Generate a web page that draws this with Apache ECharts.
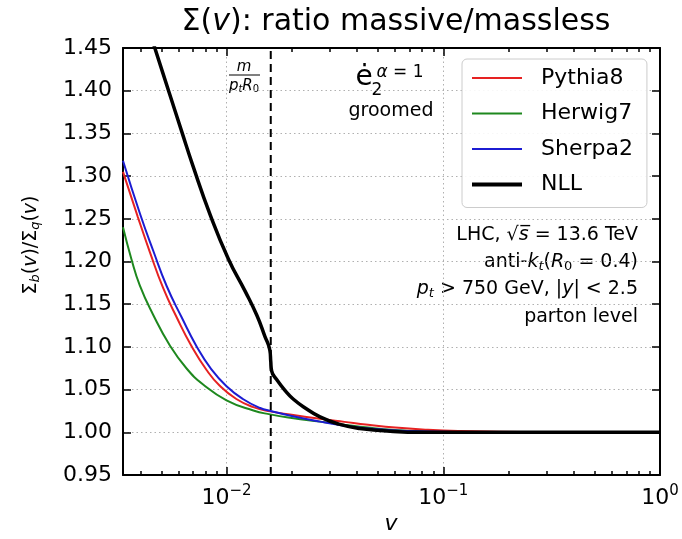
<!DOCTYPE html>
<html>
<head>
<meta charset="utf-8">
<script src="https://cdn.jsdelivr.net/npm/echarts/dist/echarts.min.js"></script>
<style>
  html, body { margin: 0; padding: 0; background: #fff; }
  #chart { width: 682px; height: 539px; }
</style>
</head>
<body>
<div id="chart"></div>
<script>
// ---------- data ----------
const xMin = 0.00333;
const xMax = 1;
const yMin = 0.95;
const yMax = 1.45;
const yStep = 0.05;
const xMajorTicks = [0.01, 0.1, 1];
const xMinorTicks = [0.004, 0.005, 0.006, 0.007, 0.008, 0.009,
                     0.02, 0.03, 0.04, 0.05, 0.06, 0.07, 0.08, 0.09,
                     0.2, 0.3, 0.4, 0.5, 0.6, 0.7, 0.8, 0.9];
const massCutoff = 0.016;   // m/(p_t R_0)

const pythia8 = [
  [0.00333, 1.305], [0.0039, 1.252], [0.00443, 1.211], [0.0051, 1.169],
  [0.00588, 1.135], [0.00689, 1.101], [0.00809, 1.073], [0.00931, 1.0545],
  [0.0111, 1.039], [0.0133, 1.0295], [0.0159, 1.0245], [0.020, 1.0205],
  [0.027, 1.0158], [0.035, 1.0122], [0.045, 1.0088], [0.060, 1.0055],
  [0.085, 1.003], [0.12, 1.0015], [0.18, 1.0007], [0.30, 1.0002],
  [0.50, 1.000], [1.0, 1.000]
];
const herwig7 = [
  [0.00333, 1.240], [0.00364, 1.203], [0.00398, 1.172], [0.00458, 1.138],
  [0.00547, 1.102], [0.00653, 1.075], [0.0078, 1.056], [0.0100, 1.0375],
  [0.0133, 1.0255], [0.0159, 1.021], [0.020, 1.0168], [0.027, 1.0125],
  [0.035, 1.0088], [0.045, 1.0055], [0.060, 1.0028], [0.085, 1.0012],
  [0.12, 1.0004], [0.20, 1.000], [1.0, 1.000]
];
const sherpa2 = [
  [0.00333, 1.318], [0.0040, 1.255], [0.0046, 1.212], [0.0053, 1.171],
  [0.0062, 1.135], [0.0073, 1.100], [0.0085, 1.074], [0.0100, 1.054],
  [0.0119, 1.039], [0.0143, 1.0285], [0.0160, 1.025], [0.020, 1.019],
  [0.027, 1.0125], [0.035, 1.0078], [0.045, 1.0045], [0.060, 1.0022],
  [0.085, 1.001], [0.12, 1.0004], [0.20, 1.000], [1.0, 1.000]
];
const nll = [
  [0.0042, 1.487], [0.00467, 1.450], [0.00545, 1.397], [0.0062, 1.353],
  [0.0070, 1.312], [0.0084, 1.255], [0.0102, 1.203], [0.0122, 1.165],
  [0.0138, 1.137], [0.0150, 1.113], [0.01585, 1.096], [0.0160, 1.083],
  [0.01615, 1.072], [0.0170, 1.062], [0.0189, 1.047], [0.0203, 1.039],
  [0.0226, 1.030], [0.0270, 1.018], [0.0330, 1.0095], [0.0412, 1.0045],
  [0.0587, 1.001], [0.080, 1.000], [1.0, 1.000]
];
const cutoffLine = [[massCutoff, yMin], [massCutoff, yMax]];

// ---------- chart ----------
const FONT = 'DejaVu Sans';
const chart = echarts.init(document.getElementById('chart'), null, { renderer: 'canvas' });

const axisLineStyle = { color: '#000', width: 2 };
const tickStyle = { color: '#000', width: 1.5 };
const gridLineStyle = { type: [1.5, 3], color: '#b0b0b0', width: 1 };

function powLabel(v) {
  const l = Math.log10(v);
  const e = Math.round(l);
  if (Math.abs(l - e) > 1e-6) return '';
  return '{b|10}{s|' + (e < 0 ? '\u2212' + (-e) : String(e)) + '}';
}

const logAxisBase = { type: 'log', logBase: 10, min: xMin, max: xMax, gridIndex: 0 };

const option = {
  animation: false,
  backgroundColor: '#ffffff',
  title: {
    text: '{a|\u03A3(}{b|v}{a|): ratio massive/massless}',
    left: 391, top: 2, textAlign: 'center',
    textStyle: {
      fontWeight: 'normal',
      rich: {
        a: { fontSize: 30, fontFamily: FONT, fontWeight: 'normal', color: '#000' },
        b: { fontSize: 30, fontFamily: FONT, fontWeight: 'normal', fontStyle: 'italic', color: '#000' }
      }
    }
  },
  grid: { left: 123, right: 22, top: 48, bottom: 64, containLabel: false },
  legend: {
    orient: 'vertical', left: 462, top: 59,
    padding: [8, 14, 12, 8],
    itemWidth: 50, itemHeight: 14, itemGap: 13.5,
    backgroundColor: 'rgba(255,255,255,0.9)',
    borderColor: '#cccccc', borderWidth: 1, borderRadius: 5,
    itemStyle: { opacity: 0 },
    textStyle: { fontSize: 22, fontFamily: FONT, color: '#000', padding: [0, 0, 0, 14], lineHeight: 22 },
    data: [
      { name: 'Pythia8' },
      { name: 'Herwig7' },
      { name: 'Sherpa2' },
      { name: 'NLL', lineStyle: { width: 4 } }
    ]
  },
  xAxis: [
    Object.assign({}, logAxisBase, {
      position: 'bottom',
      axisLine: { show: true, onZero: false, lineStyle: axisLineStyle },
      axisTick: { show: true, inside: true, length: 8, lineStyle: tickStyle, customValues: xMajorTicks },
      minorTick: { show: false },
      axisLabel: {
        customValues: xMajorTicks, margin: 9, formatter: powLabel,
        rich: {
          b: { fontSize: 22, fontFamily: FONT, color: '#000' },
          s: { fontSize: 15, fontFamily: FONT, color: '#000', padding: [0, 0, 14, 0] }
        }
      },
      splitLine: { show: true, lineStyle: gridLineStyle }
    }),
    Object.assign({}, logAxisBase, {
      position: 'bottom',
      axisLine: { show: false, onZero: false },
      axisTick: { show: true, inside: true, length: 4, lineStyle: tickStyle, customValues: xMinorTicks },
      axisLabel: { show: false },
      splitLine: { show: false }
    }),
    Object.assign({}, logAxisBase, {
      position: 'top',
      axisLine: { show: true, onZero: false, lineStyle: axisLineStyle },
      axisTick: { show: true, inside: true, length: 8, lineStyle: tickStyle, customValues: xMajorTicks },
      axisLabel: { show: false },
      splitLine: { show: false }
    }),
    Object.assign({}, logAxisBase, {
      position: 'top',
      axisLine: { show: false, onZero: false },
      axisTick: { show: true, inside: true, length: 4, lineStyle: tickStyle, customValues: xMinorTicks },
      axisLabel: { show: false },
      splitLine: { show: false }
    })
  ],
  yAxis: [
    {
      type: 'value', min: yMin, max: yMax, interval: yStep, position: 'left',
      axisLine: { show: true, onZero: false, lineStyle: axisLineStyle },
      axisTick: { show: true, inside: true, length: 8, lineStyle: tickStyle },
      axisLabel: { fontSize: 22, fontFamily: FONT, color: '#000', margin: 11,
                   formatter: v => v.toFixed(2) },
      splitLine: { show: true, lineStyle: gridLineStyle }
    },
    {
      type: 'value', min: yMin, max: yMax, interval: yStep, position: 'right',
      axisLine: { show: true, onZero: false, lineStyle: axisLineStyle },
      axisTick: { show: true, inside: true, length: 8, lineStyle: tickStyle },
      axisLabel: { show: false },
      splitLine: { show: false }
    }
  ],
  series: [
    { name: 'cutoff', type: 'line', data: cutoffLine, symbol: 'none', silent: true,
      lineStyle: { color: '#000', type: [8, 5], width: 2 }, z: 6 },
    { name: 'Pythia8', type: 'line', data: pythia8, symbol: 'none', smooth: 0.5,
      lineStyle: { color: '#e62222', width: 2 }, itemStyle: { color: '#e62222' }, z: 3 },
    { name: 'Herwig7', type: 'line', data: herwig7, symbol: 'none', smooth: 0.5,
      lineStyle: { color: '#1e881e', width: 2 }, itemStyle: { color: '#1e881e' }, z: 2 },
    { name: 'Sherpa2', type: 'line', data: sherpa2, symbol: 'none', smooth: 0.5,
      lineStyle: { color: '#1c1cd2', width: 2 }, itemStyle: { color: '#1c1cd2' }, z: 4 },
    { name: 'NLL', type: 'line', data: nll, symbol: 'none', smooth: 0.5,
      lineStyle: { color: '#000', width: 3.5 }, itemStyle: { color: '#000' }, z: 5 }
  ],
  graphic: [
    // y-axis label
    { type: 'text', x: 31, y: 245, rotation: Math.PI / 2,
      style: {
        text: '{a|\u03A3}{s|b}{a|(}{i|v}{a|)/\u03A3}{s|q}{a|(}{i|v}{a|)}',
        align: 'center', verticalAlign: 'middle',
        rich: {
          a: { fontSize: 19, fontFamily: FONT, fill: '#000' },
          i: { fontSize: 19, fontFamily: FONT, fontStyle: 'italic', fill: '#000' },
          s: { fontSize: 13, fontFamily: FONT, fontStyle: 'italic', fill: '#000', padding: [9, 0, 0, 0] }
        }
      } },
    // x-axis label
    { type: 'text', x: 391, y: 524,
      style: { text: 'v', font: 'italic 22px "DejaVu Sans"', fill: '#000', align: 'center', verticalAlign: 'middle' } },
    // m / (p_t R_0)
    { type: 'text', x: 244, y: 67,
      style: { text: 'm', font: 'italic 15px "DejaVu Sans"', fill: '#000', align: 'center', verticalAlign: 'middle' } },
    { type: 'line', shape: { x1: 229, y1: 75, x2: 260, y2: 75 }, style: { stroke: '#000', lineWidth: 1 } },
    { type: 'text', x: 244, y: 86,
      style: {
        text: '{i|p}{si|t}{i|R}{s|0}', align: 'center', verticalAlign: 'middle',
        rich: {
          i: { fontSize: 15, fontFamily: FONT, fontStyle: 'italic', fill: '#000' },
          si: { fontSize: 10, fontFamily: FONT, fontStyle: 'italic', fill: '#000', padding: [6, 0, 0, 0] },
          s: { fontSize: 10, fontFamily: FONT, fill: '#000', padding: [6, 0, 0, 0] }
        }
      } },
    // e-dot observable
    { type: 'text', x: 364, y: 78,
      style: { text: '\u0117', font: '28px "DejaVu Sans"', fill: '#000', align: 'center', verticalAlign: 'middle' } },
    { type: 'text', x: 377, y: 91,
      style: { text: '2', font: '17px "DejaVu Sans"', fill: '#000', align: 'center', verticalAlign: 'middle' } },
    { type: 'text', x: 400, y: 73,
      style: {
        text: '{i|\u03B1}{n| = 1}', align: 'center', verticalAlign: 'middle',
        rich: {
          i: { fontSize: 17, fontFamily: FONT, fontStyle: 'italic', fill: '#000' },
          n: { fontSize: 17, fontFamily: FONT, fill: '#000' }
        }
      } },
    { type: 'text', x: 391, y: 111,
      style: { text: 'groomed', font: '19px "DejaVu Sans"', fill: '#000', align: 'center', verticalAlign: 'middle' } },
    // right-hand info block
    { type: 'text', x: 638, y: 235,
      style: {
        text: '{n|LHC, \u221A}{i|s\u0305}{n| = 13.6 TeV}', align: 'right', verticalAlign: 'middle',
        rich: {
          n: { fontSize: 19, fontFamily: FONT, fill: '#000' },
          i: { fontSize: 19, fontFamily: FONT, fontStyle: 'italic', fill: '#000' }
        }
      } },
    { type: 'text', x: 638, y: 262,
      style: {
        text: '{n|anti-}{i|k}{si|t}{n|(}{i|R}{s|0}{n| = 0.4)}', align: 'right', verticalAlign: 'middle',
        rich: {
          n: { fontSize: 19, fontFamily: FONT, fill: '#000' },
          i: { fontSize: 19, fontFamily: FONT, fontStyle: 'italic', fill: '#000' },
          si: { fontSize: 13, fontFamily: FONT, fontStyle: 'italic', fill: '#000', padding: [9, 0, 0, 0] },
          s: { fontSize: 13, fontFamily: FONT, fill: '#000', padding: [9, 0, 0, 0] }
        }
      } },
    { type: 'text', x: 638, y: 289,
      style: {
        text: '{i|p}{si|t}{n| > 750 GeV, |}{i|y}{n|| < 2.5}', align: 'right', verticalAlign: 'middle',
        rich: {
          n: { fontSize: 19, fontFamily: FONT, fill: '#000' },
          i: { fontSize: 19, fontFamily: FONT, fontStyle: 'italic', fill: '#000' },
          si: { fontSize: 13, fontFamily: FONT, fontStyle: 'italic', fill: '#000', padding: [9, 0, 0, 0] }
        }
      } },
    { type: 'text', x: 638, y: 317,
      style: { text: 'parton level', font: '19px "DejaVu Sans"', fill: '#000', align: 'right', verticalAlign: 'middle' } }
  ]
};

chart.setOption(option);
</script>
</body>
</html>
